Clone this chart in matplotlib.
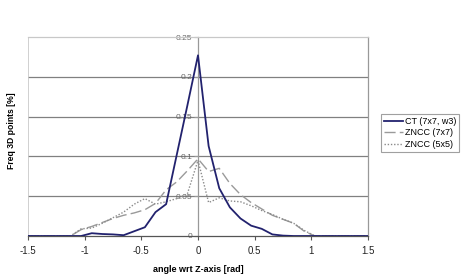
import matplotlib
matplotlib.use("Agg")
import matplotlib.pyplot as plt

angle = [-1.5, -1.40625, -1.3125, -1.21875, -1.125, -1.03125, -0.9375, -0.84375,
         -0.75, -0.65625, -0.5625, -0.46875, -0.375, -0.28125, -0.1875, -0.09375,
         0.0, 0.09375, 0.1875, 0.28125, 0.375, 0.46875, 0.5625, 0.65625,
         0.75, 0.84375, 0.9375, 1.03125, 1.125, 1.21875, 1.3125, 1.40625, 1.5]

ct_7x7_w3 = [0, 0, 0, 0, 0, 0, 0.0035, 0.0025,
             0.002, 0.001, 0.006, 0.011, 0.030, 0.040, 0.102, 0.164,
             0.227, 0.113, 0.060, 0.036, 0.022, 0.013, 0.009, 0.002,
             0.0005, 0, 0, 0, 0, 0, 0, 0, 0]

zncc_7x7 = [0, 0, 0, 0, 0, 0.008, 0.012, 0.017,
            0.022, 0.026, 0.029, 0.033, 0.041, 0.058, 0.068, 0.082,
            0.097, 0.081, 0.085, 0.066, 0.052, 0.042, 0.034, 0.026,
            0.021, 0.016, 0.006, 0, 0, 0, 0, 0, 0]

zncc_5x5 = [0, 0, 0, 0, 0, 0.009, 0.010, 0.016,
            0.023, 0.030, 0.040, 0.047, 0.040, 0.043, 0.047, 0.053,
            0.095, 0.042, 0.048, 0.044, 0.043, 0.038, 0.032, 0.027,
            0.021, 0.016, 0.007, 0, 0, 0, 0, 0, 0]

series_labels = ["CT (7x7, w3)", "ZNCC (7x7)", "ZNCC (5x5)"]
x_ticks = [-1.5, -1, -0.5, 0, 0.5, 1, 1.5]
x_tick_labels = ["-1.5", "-1", "-0.5", "0", "0.5", "1", "1.5"]
y_ticks = [0, 0.05, 0.1, 0.15, 0.2, 0.25]
y_tick_labels = ["0", "0.05", "0.1", "0.15", "0.2", "0.25"]

plt.rcParams['font.family'] = ['Liberation Sans', 'DejaVu Sans']

fig = plt.figure(figsize=(4.64, 2.76), dpi=100)
ax = fig.add_axes([28/464, 1-236/276, 340/464, 199/276])

ax.plot(angle, ct_7x7_w3, color='#22226e', lw=1.3, label=series_labels[0], zorder=4)
ax.plot(angle, zncc_7x7, color='#9a9a9a', lw=1.0, ls=(0, (8, 3)), label=series_labels[1], zorder=3)
ax.plot(angle, zncc_5x5, color='#8a8a8a', lw=1.0, ls=(0, (1, 1.3)), label=series_labels[2], zorder=3)

ax.set_xlim(-1.5, 1.5)
ax.set_ylim(0, 0.25)
ax.set_xticks(x_ticks)
ax.set_xticklabels(x_tick_labels)
ax.set_yticks(y_ticks)
ax.set_yticklabels(y_tick_labels)

ax.spines['left'].set_position(('data', 0))
ax.spines['left'].set_color('#999999')
ax.spines['top'].set_color('#c8c8c8')
ax.spines['right'].set_color('#999999')
ax.spines['bottom'].set_color('#555555')
for s in ax.spines.values():
    s.set_linewidth(0.9)
ax.axvline(-1.5, color='#c8c8c8', lw=1.2, zorder=1)

ax.yaxis.grid(True, color='#808080', lw=0.9)
gl = ax.get_ygridlines()
gl[0].set_visible(False)
gl[-1].set_visible(False)
ax.set_axisbelow(True)

ax.tick_params(axis='y', direction='out', length=3, width=0.8, color='#999999',
               labelsize=6, labelcolor='#666666', pad=1)
ax.tick_params(axis='x', direction='out', length=3, width=0.8, color='#555555',
               labelsize=7, labelcolor='#222222', pad=4)

ax.set_xlabel("angle wrt Z-axis [rad]", fontsize=6.5, fontweight='bold', labelpad=7)
ax.set_ylabel("Freq 3D points [%]", fontsize=6.2, fontweight='bold')
ax.yaxis.set_label_coords(-12/340, 0.53)

leg = ax.legend(loc='upper left', bbox_to_anchor=(381/464, 1-114/276), bbox_transform=fig.transFigure,
                fontsize=6.5, frameon=True, fancybox=False, edgecolor='#888888',
                handlelength=2.1, handletextpad=0.3, borderpad=0.3, labelspacing=0.3,
                borderaxespad=0)
leg.get_frame().set_linewidth(0.8)

fig.savefig("out.png", dpi=100)
